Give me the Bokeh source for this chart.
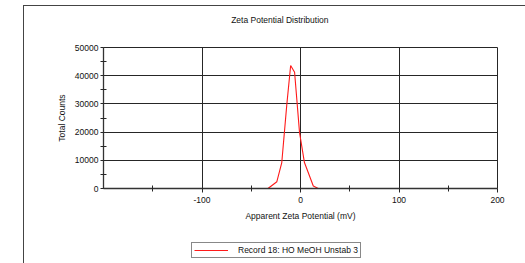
from bokeh.plotting import figure
from bokeh.layouts import column
from bokeh.models import (FixedTicker, Legend, LegendItem, ColumnDataSource,
                          PrintfTickFormatter, InlineStyleSheet, Label)
from bokeh.embed import file_html
from bokeh.resources import INLINE

# Data
zeta_mv = [-150, -33, -24, -19, -14, -10, -6, -1, 4, 13, 18, 150]
total_counts = [0, 0, 2400, 9200, 29400, 43600, 41200, 19900, 9200, 900, 0, 0]
x_major = [-100, 0, 100, 200]
x_minor = [-150, -50, 50, 150]
y_major = [0, 10000, 20000, 30000, 40000, 50000]
y_minor = [5000, 15000, 25000, 35000, 45000]
series_name = "Record 18: HO MeOH Unstab 3"
title_text = "Zeta Potential Distribution"

FONT = "Liberation Sans"
FS = "8.5px"
GRID = "#262626"
W = 520
H0, H1, H2 = 30, 208, 22


def strip(height, xr, yr):
    f = figure(width=W, height=height, x_range=xr, y_range=yr,
               x_axis_type=None, y_axis_type=None, output_backend="svg",
               toolbar_location=None, min_border=0)
    f.outline_line_color = None
    f.grid.visible = False
    f.background_fill_color = "white"
    f.border_fill_color = "white"
    return f


# title strip
t = strip(H0, (-200, 200), (0, H0))
t.add_layout(Label(x=-21, y=H0 - 19, text=title_text, text_align="center",
                   text_baseline="middle", text_font=FONT, text_font_size=FS,
                   text_color="#111111"))

# main chart
p = figure(width=W, height=H1, x_range=(-200, 200), y_range=(0, 50000),
           output_backend="svg", toolbar_location=None,
           min_border_left=103, min_border_right=W - 497,
           min_border_top=47 - H0, min_border_bottom=H1 - (188 - H0))
p.background_fill_color = "white"
p.border_fill_color = "white"
p.outline_line_color = GRID
p.outline_line_width = 1

for ax in (p.xaxis[0], p.yaxis[0]):
    ax.axis_line_color = "#333333"
    ax.axis_line_width = 1.3
    ax.major_tick_line_color = GRID
    ax.minor_tick_line_color = GRID
    ax.major_label_text_font = FONT
    ax.major_label_text_font_size = FS
    ax.major_label_text_color = "#111111"
    ax.axis_label_text_font = FONT
    ax.axis_label_text_font_size = FS
    ax.axis_label_text_font_style = "normal"
    ax.axis_label_text_color = "#111111"
    ax.formatter = PrintfTickFormatter(format="%d")

p.xaxis.ticker = FixedTicker(ticks=x_major, minor_ticks=x_minor)
p.yaxis.ticker = FixedTicker(ticks=y_major, minor_ticks=y_minor)
p.xaxis.major_tick_in = 0
p.xaxis.major_tick_out = 4
p.xaxis.minor_tick_in = 3
p.xaxis.minor_tick_out = 3
p.yaxis.major_tick_in = 0
p.yaxis.major_tick_out = 3
p.yaxis.minor_tick_in = 3
p.yaxis.minor_tick_out = 3
p.xaxis.major_label_standoff = 4
p.yaxis.major_label_standoff = 2
p.xaxis.axis_label = "Apparent Zeta Potential (mV)"
p.yaxis.axis_label = "Total Counts"
p.xaxis.axis_label_standoff = 5
p.yaxis.axis_label_standoff = 5

p.xgrid.ticker = FixedTicker(ticks=[-100, 0, 100])
p.ygrid.ticker = FixedTicker(ticks=y_major)
for g in (p.xgrid[0], p.ygrid[0]):
    g.grid_line_color = GRID
    g.grid_line_width = 1

src = ColumnDataSource(dict(x=zeta_mv, y=total_counts))
p.line("x", "y", source=src, line_color="#ff1a1a", line_width=1.1)

# legend strip under the chart (series drawn out of view; only its key shows)
q = strip(H2, (1000, 1001), (0, 1))
r2 = q.line("x", "y", source=src, line_color="#ff1a1a", line_width=1.1)
legend = Legend(items=[LegendItem(label=series_name, renderers=[r2])],
                location=(88, 2), orientation="horizontal",
                border_line_color="#111111", border_line_width=1,
                background_fill_color="white", background_fill_alpha=1,
                label_text_font=FONT, label_text_font_size=FS,
                label_text_color="#111111",
                glyph_width=34, glyph_height=10, label_height=10,
                label_standoff=10, padding=2, margin=0, spacing=0)
q.add_layout(legend, "center")

# outer chart frame (left and top edges visible in the reference)
t.stylesheets = [InlineStyleSheet(css="""
:host { position: relative; }
:host::after {
  content: ""; position: absolute; left: 23px; top: 5px;
  width: 1000px; height: 1000px; border-left: 1px solid #444;
  border-top: 1px solid #444; pointer-events: none; box-sizing: border-box;
}
""")]
side_css = """
:host { position: relative; }
:host::after {
  content: ""; position: absolute; left: 23px; top: 0px;
  width: 1px; height: 100%; background: #444; pointer-events: none;
}
"""
p.stylesheets = [InlineStyleSheet(css=side_css)]
q.stylesheets = [InlineStyleSheet(css=side_css)]

layout = column(t, p, q, spacing=0)
open("out.html", "w").write(file_html(layout, INLINE))
